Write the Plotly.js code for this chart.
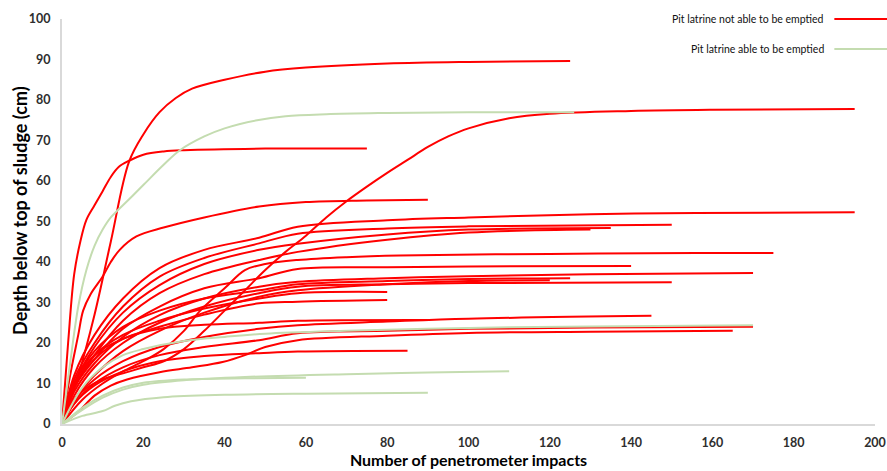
<!DOCTYPE html>
<html>
<head>
<meta charset="utf-8">
<script src="https://cdn.plot.ly/plotly-3.0.1.min.js"></script>
<style>html,body{margin:0;padding:0;background:#fff}#chart{width:887px;height:471px}</style>
</head>
<body>
<div id="chart"></div>
<script>
// Red: pit latrines not able to be emptied
const R1x=[0,4,8,12,16.5,20,24,28,32,40,50,60,80,100,125];
const R1y=[0,12,27,45,64.8,71.5,77,80.5,82.8,85,87,88,89,89.4,89.6];
const R2x=[0,1.5,3,4.5,6,8,10,12,14,16.5,20,25,30,50,75];
const R2y=[0,20,37,45,50.4,54,57.5,61,63.5,65,66.5,67.3,67.6,68,68];
const R3x=[0,5,10,15,20,25,30,35,40,45,50,55,60,65,70,75,80,85,90,95,100,110,120,140,160,195];
const R3y=[0,8,11,12.5,14,15.5,18.5,23,28,33,38,42.5,46.5,51,55,58.6,62,65.2,68.4,71,73,75.5,76.6,77.3,77.6,77.8];
const R4x=[0,2,4,5.2,7,10,12,14.2,18.3,25,35,48.5,60,75,90];
const R4y=[0,12,22,28,32,36.4,40,43,46.3,48.5,51,53.7,54.8,55.2,55.4];
const R5x=[0,3,8,15,24,35,48.5,58,80,100,130,156,195];
const R5y=[0,12,22,31,38.5,43,46,48.7,50.3,51,51.8,52.1,52.3];
const R6x=[0,3,8,15,24,35,48.5,58,80,100,150];
const R6y=[0,11,20,29,36.4,41,44.6,47,48.3,48.8,49.2];
const R7x=[0,3,8,15,24,35,48.5,58,80,100,135];
const R7y=[0,10,19,27.5,34.3,39.5,43,44.5,46.8,48,48.4];
const R8x=[0,3,8,15,24,35,48.5,58,80,100,130];
const R8y=[0,9,17,25.5,32.3,37,40.5,42.5,45.5,47.3,48];
const R9x=[0,5,10,15,20,25,30,34,40,45,50,58,70,83,120,156,175];
const R9y=[0,6,10,13,15.5,18.5,23,28,33.5,38,39.5,40.5,41.2,41.6,42,42.2,42.2];
const R10x=[0,3,8,15,24,35,48.5,58,80,100,140];
const R10y=[0,9,16,23.5,29,33.5,36,38.3,38.7,38.9,39];
const R11x=[0,3,8,15,24,35,48.5,58,80,100,130,170];
const R11y=[0,8,15,21.5,26.9,31,33.9,35.1,36,36.5,37,37.3];
const R12x=[0,3,8,15,24,35,48.5,58,80,100,150];
const R12y=[0,7,14,20,25,29,32.3,33.9,34.5,34.8,35];
const R13x=[0,3,8,15,24,35,48.5,58,80,100,125];
const R13y=[0,10,18,24,28,31,33,34.5,35.3,35.8,36];
const R14x=[0,3,8,15,24,35,48.5,58,80,100,120];
const R14y=[0,6,12,18,23,27.5,31.4,33,34.5,35.3,35.5];
const R15x=[0,3,8,15,24,35,48.5,58,80];
const R15y=[0,9,17,22,25.5,28.5,31,32.3,32.6];
const R16x=[0,3,8,15,24,35,48.5,58,80];
const R16y=[0,9,16,21,24,27,29.8,30.2,30.6];
const R17x=[0,3,8,15,24,35,48.5,58,80,100,145];
const R17y=[0,6,11,15.5,19,21.5,23.5,24.4,25.3,26,26.7];
const R18x=[0,3,8,15,24,35,48.5,58,90];
const R18y=[0,10,17,21,23.5,24.5,25,25.5,25.7];
const R19x=[0,3,8,15,24,35,48.5,58,80,100,130,170];
const R19y=[0,5,10,14,17,19,20.7,22.4,23,23.5,23.8,24];
const R20x=[0,4,8,12,16,24,32,39.5,45,50,58,80,100,130,165];
const R20y=[0,3,7,9.5,11,12.8,14,15.3,17,19,20.7,21.8,22.5,22.8,23];
const R21x=[0,3,8,15,24,35,48.5,58,85];
const R21y=[0,5,9.5,13,15.5,16.8,17.5,17.9,18.1];

// Green: pit latrines able to be emptied
const G1x=[0,2,4,6,8,10,12,16,20,25,29,35,40,48,55,65,80,100,126];
const G1y=[0,15,29,38,44,48,51,55,59,64,67.6,71,73,75,76,76.5,76.8,77,77];
const G2x=[0,5,10,15,20,30,40,50,70,100,130,170];
const G2y=[0,9,14,17,18.5,20.5,21.5,22.3,23,23.7,24.1,24.4];
const G3x=[0,5,10,15,20,30,45,70,90,110];
const G3y=[0,3.5,6.5,8.5,9.7,10.8,11.6,12.3,12.7,13];
const G4x=[0,5,10,15,20,30,45,60];
const G4y=[0,4,7,9,10.2,11,11.3,11.4];
const G5x=[0,5,10,13,17,25,40,60,90];
const G5y=[0,2,3.2,4.5,5.6,6.6,7.2,7.5,7.7];

const legendLabels=["Pit latrine not able to be emptied","Pit latrine able to be emptied"];
const xTitle="Number of penetrometer impacts";
const yTitle="Depth below top of sludge (cm)";
const xTicks=[0,20,40,60,80,100,120,140,160,180,200];
const yTicks=[0,10,20,30,40,50,60,70,80,90,100];

const RED="#ff0000", GREEN="#c4dcb0";
const reds=[[R1x,R1y],[R2x,R2y],[R3x,R3y],[R4x,R4y],[R5x,R5y],[R6x,R6y],[R7x,R7y],[R8x,R8y],[R9x,R9y],[R10x,R10y],[R11x,R11y],[R12x,R12y],[R13x,R13y],[R14x,R14y],[R15x,R15y],[R16x,R16y],[R17x,R17y],[R18x,R18y],[R19x,R19y],[R20x,R20y],[R21x,R21y]];
const greens=[[G1x,G1y],[G2x,G2y],[G3x,G3y],[G4x,G4y],[G5x,G5y]];

const traces=[];
reds.forEach(function(s){traces.push({x:s[0],y:s[1],type:'scatter',mode:'lines',name:legendLabels[0],showlegend:false,hoverinfo:'skip',cliponaxis:false,line:{color:RED,width:2,shape:'spline',smoothing:1}});});
greens.forEach(function(s){traces.push({x:s[0],y:s[1],type:'scatter',mode:'lines',name:legendLabels[1],showlegend:false,hoverinfo:'skip',cliponaxis:false,line:{color:GREEN,width:2,shape:'spline',smoothing:1}});});

const FONT='Lato, "Open Sans", sans-serif';
const layout={
  width:887,height:471,
  margin:{l:62,r:12,t:19,b:47},
  paper_bgcolor:'#ffffff',plot_bgcolor:'#ffffff',
  showlegend:false,
  xaxis:{range:[0,200],tickvals:xTicks,ticktext:xTicks.map(String),showgrid:false,zeroline:false,showline:true,linecolor:'#d9d9d9',linewidth:2,ticks:'',ticklabelstandoff:6,
    tickfont:{family:FONT,size:12.5,color:'#2e2e2e',weight:'bold'},
    title:{text:xTitle,font:{family:FONT,size:16,color:'#000',weight:'bold'},standoff:6}},
  yaxis:{range:[0,100],tickvals:yTicks,ticktext:yTicks.map(String),showgrid:false,zeroline:false,showline:true,linecolor:'#d9d9d9',linewidth:2,ticks:'',ticklabelstandoff:7,
    tickfont:{family:FONT,size:12.5,color:'#2e2e2e',weight:'bold'}},
  annotations:[
    {xref:'paper',yref:'paper',x:-0.052,y:0.528,xanchor:'center',yanchor:'middle',textangle:-90,showarrow:false,text:yTitle,font:{family:FONT,size:18,color:'#000',weight:'bold'}},
    {xref:'paper',yref:'paper',x:0.94,y:1.0,xanchor:'right',yanchor:'middle',showarrow:false,text:legendLabels[0],font:{family:FONT,size:10.5,color:'#111'}},
    {xref:'paper',yref:'paper',x:0.94,y:0.926,xanchor:'right',yanchor:'middle',showarrow:false,text:legendLabels[1],font:{family:FONT,size:10.5,color:'#111'}}
  ],
  shapes:[
    {type:'line',xref:'paper',yref:'paper',x0:0.95,x1:1.016,y0:1.0,y1:1.0,line:{color:RED,width:2}},
    {type:'line',xref:'paper',yref:'paper',x0:0.95,x1:1.016,y0:0.926,y1:0.926,line:{color:GREEN,width:2}}
  ]
};
Plotly.newPlot('chart',traces,layout,{staticPlot:true,displayModeBar:false});
</script>
</body>
</html>
